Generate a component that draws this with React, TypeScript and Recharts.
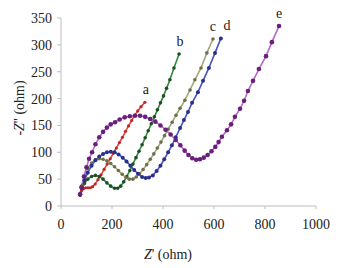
import { LineChart, Line, XAxis, YAxis, Label } from "recharts";

// Nyquist data: Z' (ohm) and -Z'' (ohm)
const aRe = [75, 80, 88, 97, 106, 115, 124, 134, 145, 157, 169, 181, 193, 205, 217, 229, 241, 253, 265, 277, 289, 301, 314, 329];
const aIm = [20, 28, 32, 34, 34, 34, 36, 41, 49, 58, 68, 78, 88, 98, 108, 118, 128, 139, 149, 159, 169, 177, 185, 193];

const bRe = [75, 82, 92, 105, 120, 135, 150, 165, 180, 195, 210, 222, 234, 246, 258, 270, 282, 294, 306, 318, 330, 342, 354, 366, 378, 390, 402, 414, 427, 443, 463];
const bIm = [20, 32, 42, 50, 55, 57, 55, 50, 43, 37, 33, 33, 37, 45, 55, 66, 78, 90, 102, 114, 127, 140, 153, 166, 179, 192, 205, 219, 235, 257, 283];

const cRe = [75, 82, 92, 105, 120, 135, 150, 165, 180, 195, 210, 225, 240, 255, 268, 282, 295, 308, 322, 336, 350, 364, 378, 392, 406, 420, 436, 451, 467, 486, 506, 525, 549, 572, 596];
const cIm = [22, 38, 55, 70, 80, 86, 88, 87, 84, 79, 73, 66, 59, 53, 50, 50, 54, 60, 68, 77, 87, 97, 108, 119, 131, 143, 156, 169, 182, 197, 216, 235, 257, 285, 311];

const dRe = [75, 82, 92, 105, 120, 135, 150, 165, 180, 195, 210, 226, 242, 257, 272, 287, 302, 318, 332, 345, 360, 375, 390, 405, 420, 435, 450, 467, 482, 498, 514, 537, 557, 580, 604, 627];
const dIm = [22, 34, 48, 62, 75, 85, 92, 97, 100, 101, 100, 96, 90, 83, 75, 67, 60, 54, 52, 53, 57, 65, 75, 87, 100, 113, 128, 145, 160, 175, 192, 212, 233, 257, 285, 312];

const eRe = [75, 80, 90, 100, 110, 122, 135, 150, 165, 180, 195, 212, 230, 250, 270, 290, 310, 330, 350, 370, 390, 410, 430, 450, 468, 485, 500, 515, 530, 545, 560, 575, 590, 605, 618, 631, 651, 667, 682, 702, 718, 733, 753, 776, 804, 827, 855];
const eIm = [22, 35, 55, 72, 88, 100, 115, 128, 138, 146, 152, 156, 161, 165, 167, 168, 168, 166, 162, 157, 150, 142, 133, 123, 113, 103, 95, 89, 86, 87, 90, 95, 102, 110, 119, 129, 141, 152, 166, 181, 196, 214, 233, 255, 279, 305, 335];

const xTicks = [0, 200, 400, 600, 800, 1000];
const yTicks = [0, 50, 100, 150, 200, 250, 300, 350];

const toPoints = (re: number[], im: number[]) => re.map((x, i) => ({ x, y: im[i] }));

const series = [
  { name: "a", data: toPoints(aRe, aIm), line: "#e2493c", dot: "#c0262a", r: 1.6, dx: 1 },
  { name: "b", data: toPoints(bRe, bIm), line: "#2f8a3a", dot: "#1d4f24", r: 1.8, dx: 1 },
  { name: "c", data: toPoints(cRe, cIm), line: "#a3a77a", dot: "#6d704a", r: 1.8, dx: 0 },
  { name: "d", data: toPoints(dRe, dIm), line: "#4553c8", dot: "#2a2f8c", r: 2, dx: 6 },
  { name: "e", data: toPoints(eRe, eIm), line: "#b46cc6", dot: "#6a1f7c", r: 2.3, dx: 0 },
];

const font = "Liberation Serif, serif";
const textStyle = { fontFamily: font };

const endLabel = (name: string, count: number, dx: number) => (props: any) => {
  if (props.index !== count - 1) return null;
  return (
    <text x={props.x + dx} y={props.y - 8} textAnchor="middle" style={textStyle} fontSize={14} fill="#222">
      {name}
    </text>
  );
};

const YTitle = () => (
  <text x={21} y={108} transform="rotate(-90 21 108)" textAnchor="middle" dominantBaseline="middle" style={textStyle} fontSize={14} fill="#222">
    -<tspan fontStyle="italic">Z</tspan>'' (ohm)
  </text>
);

const XTitle = () => (
  <text x={168} y={256} textAnchor="middle" dominantBaseline="middle" style={textStyle} fontSize={14} fill="#222">
    <tspan fontStyle="italic">Z</tspan>' (ohm)
  </text>
);

export default function App() {
  return (
    <div style={{ position: "absolute", left: 0, top: 0, background: "#fff", fontFamily: font }}>
      <LineChart width={339} height={268} margin={{ top: 18, right: 23, bottom: 32, left: 0 }} style={textStyle}>
        <XAxis
          type="number"
          dataKey="x"
          domain={[0, 1000]}
          ticks={xTicks}
          height={30}
          stroke="#bdbdbd"
          tickSize={3}
          tickMargin={10}
          tick={{ fill: "#222", fontSize: 14, style: textStyle }}
        >
          <Label content={XTitle} />
        </XAxis>
        <YAxis
          type="number"
          dataKey="y"
          domain={[0, 350]}
          ticks={yTicks}
          width={61}
          stroke="#bdbdbd"
          tickSize={4}
          tickMargin={5}
          tick={{ fill: "#222", fontSize: 14, style: textStyle }}
        >
          <Label content={YTitle} />
        </YAxis>
        {series.map((s) => (
          <Line
            key={s.name}
            data={s.data}
            dataKey="y"
            type="linear"
            stroke={s.line}
            strokeWidth={1.6}
            dot={{ r: s.r, fill: s.dot, stroke: "none" }}
            activeDot={false}
            label={endLabel(s.name, s.data.length, s.dx)}
            isAnimationActive={false}
          />
        ))}
      </LineChart>
    </div>
  );
}
